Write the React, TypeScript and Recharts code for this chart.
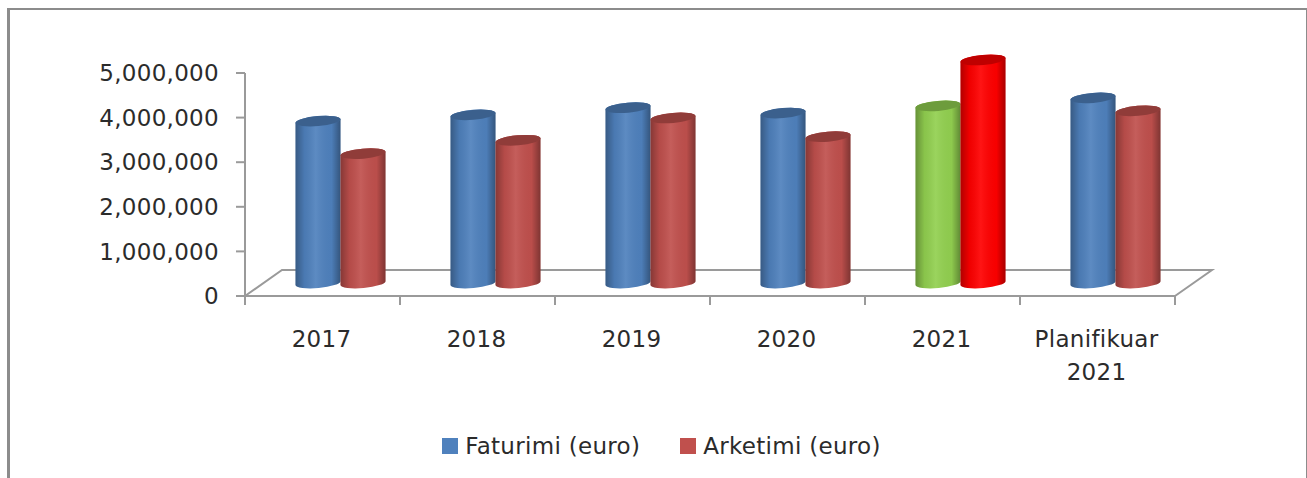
import { Bar, BarChart, Cell, Legend, XAxis, YAxis, usePlotArea } from "recharts";

const categories = ["2017", "2018", "2019", "2020", "2021", "Planifikuar 2021"];
const faturimi = [3630000, 3770000, 3930000, 3810000, 3970000, 4150000];
const arketimi = [2900000, 3200000, 3700000, 3280000, 5000000, 3860000];
const faturimiColors = ["#4F81BD", "#4F81BD", "#4F81BD", "#4F81BD", "#92D050", "#4F81BD"];
const arketimiColors = ["#C0504D", "#C0504D", "#C0504D", "#C0504D", "#FF0000", "#C0504D"];
const yTicks = [0, 1000000, 2000000, 3000000, 4000000, 5000000];

const data = categories.map((name, i) => ({
  name,
  faturimi: faturimi[i],
  arketimi: arketimi[i],
}));

const FONT = "'DejaVu Sans', sans-serif";
const TEXT = "#2b2b2b";
const AXIS = "#9a9a9a";
const DEPTH_X = 37;
const DEPTH_Y = 26;
const SIZE = 23;
const SPACING = 0.3;

// cylinder stands in the middle of the floor depth
function Cylinder(props: any) {
  const { x, y, width, height, fill } = props;
  const cx = x + width / 2 + DEPTH_X / 2 - 1;
  const top = y - DEPTH_Y / 2;
  const bottom = top + height;
  const rx = width / 2;
  const ry = 5;
  const dy = 2;
  const body = `M${cx - rx},${top + dy} A${rx},${ry} -5 0 1 ${cx + rx},${top - dy} L${cx + rx},${bottom - dy} A${rx},${ry} -5 0 1 ${cx - rx},${bottom + dy} Z`;
  return (
    <g>
      <path d={body} fill={fill} />
      <path d={body} fill="url(#cylShade)" />
      <ellipse cx={cx} cy={top} rx={rx} ry={ry} fill={fill} transform={`rotate(-5 ${cx} ${top})`} />
      <ellipse cx={cx} cy={top} rx={rx} ry={ry} fill="#000" fillOpacity={0.25} transform={`rotate(-5 ${cx} ${top})`} />
    </g>
  );
}

function Floor() {
  const area = usePlotArea();
  if (!area) return null;
  const left = area.x;
  const right = area.x + area.width;
  const front = area.y + area.height;
  const pts = `${left},${front} ${left + DEPTH_X},${front - DEPTH_Y} ${right + DEPTH_X},${front - DEPTH_Y} ${right},${front}`;
  return (
    <g>
      <defs>
        <linearGradient id="cylShade" x1="0" x2="1" y1="0" y2="0">
          <stop offset="0" stopColor="#000" stopOpacity={0.3} />
          <stop offset="0.2" stopColor="#000" stopOpacity={0.06} />
          <stop offset="0.45" stopColor="#fff" stopOpacity={0.08} />
          <stop offset="0.8" stopColor="#000" stopOpacity={0.03} />
          <stop offset="1" stopColor="#000" stopOpacity={0.34} />
        </linearGradient>
      </defs>
      <polyline points={pts} fill="none" stroke={AXIS} strokeWidth={2} />
    </g>
  );
}

function CategoryTick(props: any) {
  const { x, y, payload, index, visibleTicksCount } = props;
  const band = 155;
  const lines = payload.value.split(" ");
  return (
    <g>
      <line x1={x - band / 2} x2={x - band / 2} y1={296} y2={305} stroke={AXIS} strokeWidth={2} />
      {index === visibleTicksCount - 1 && (
        <line x1={x + band / 2} x2={x + band / 2} y1={296} y2={305} stroke={AXIS} strokeWidth={2} />
      )}
      {lines.map((line: string, i: number) => (
        <text key={i} x={x - 1} y={y + 43 + i * 33} textAnchor="middle" fontFamily={FONT} fontSize={SIZE} fill={TEXT} letterSpacing={SPACING}>
          {line}
        </text>
      ))}
    </g>
  );
}

function ChartLegend({ payload }: any) {
  const items = [...(payload ?? [])].sort((a: any, b: any) => (a.dataKey === "faturimi" ? -1 : b.dataKey === "faturimi" ? 1 : 0));
  return (
    <div style={{ display: "flex", justifyContent: "center", gap: 40, fontFamily: FONT, fontSize: SIZE, letterSpacing: SPACING, color: TEXT, lineHeight: "26px" }}>
      {items.map((it: any) => (
        <span key={it.value} style={{ display: "flex", alignItems: "center", gap: 7 }}>
          <span style={{ width: 16, height: 16, background: it.color, display: "inline-block" }} />
          {it.value}
        </span>
      ))}
    </div>
  );
}

export default function App() {
  return (
    <div style={{ position: "absolute", left: 0, top: 0, width: 1307, height: 478, overflow: "hidden", background: "#fff" }}>
      <div
        style={{
          position: "absolute",
          left: 7,
          top: 8,
          width: 1296,
          height: 500,
          border: "2px solid #8c8c8c",
          borderLeftWidth: 3,
          boxSizing: "content-box",
        }}
      />
      <BarChart
        width={1307}
        height={478}
        data={data}
        barSize={45}
        barGap={0}
        margin={{ top: 73, right: 132, bottom: 0, left: 45 }}
        style={{ position: "absolute", left: 0, top: 0 }}
      >
        <Floor />
        <XAxis
          dataKey="name"
          axisLine={{ stroke: AXIS, strokeWidth: 2 }}
          tickLine={false}
          interval={0}
          height={156}
          tick={<CategoryTick />}
        />
        <YAxis
          domain={[0, 5000000]}
          ticks={yTicks}
          width={200}
          axisLine={{ stroke: AXIS, strokeWidth: 2 }}
          tickLine={{ stroke: AXIS, strokeWidth: 2 }}
          tickSize={9}
          tickMargin={17}
          tickFormatter={(v: number) => v.toLocaleString("en-US")}
          tick={{ fontFamily: FONT, fontSize: SIZE, fill: TEXT, letterSpacing: SPACING }}
        />
        <Bar dataKey="faturimi" name="Faturimi (euro)" fill="#4F81BD" shape={<Cylinder />} isAnimationActive={false}>
          {faturimiColors.map((c, i) => (
            <Cell key={i} fill={c} />
          ))}
        </Bar>
        <Bar dataKey="arketimi" name="Arketimi (euro)" fill="#C0504D" shape={<Cylinder />} isAnimationActive={false}>
          {arketimiColors.map((c, i) => (
            <Cell key={i} fill={c} />
          ))}
        </Bar>
        <Legend
          verticalAlign="bottom"
          content={<ChartLegend />}
          wrapperStyle={{ left: 0, width: 1323, bottom: 19 }}
        />
      </BarChart>
    </div>
  );
}
